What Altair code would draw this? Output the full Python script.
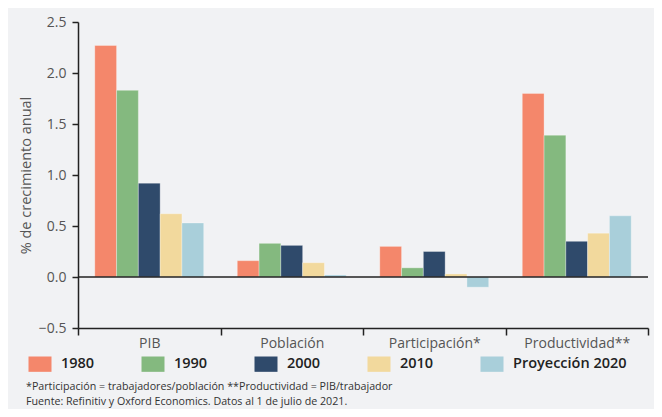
import altair as alt
import pandas as pd

categories = ["PIB", "Población", "Participación*", "Productividad**"]
series = ["1980", "1990", "2000", "2010", "Proyección 2020"]
v1980 = [2.27, 0.16, 0.30, 1.80]
v1990 = [1.83, 0.33, 0.09, 1.39]
v2000 = [0.92, 0.31, 0.25, 0.35]
v2010 = [0.62, 0.14, 0.03, 0.43]
v2020 = [0.53, 0.02, -0.10, 0.60]
colors = ["#f4876b", "#84b97f", "#2f4a6b", "#f2d99d", "#a9cfda"]
y_ticks = [-0.5, 0.0, 0.5, 1.0, 1.5, 2.0, 2.5]
note1 = "*Participación = trabajadores/población **Productividad = PIB/trabajador"
note2 = "Fuente: Refinitiv y Oxford Economics. Datos al 1 de julio de 2021."

values = [v1980, v1990, v2000, v2010, v2020]
rows = []
for s, vals in zip(series, values):
    for c, v in zip(categories, vals):
        rows.append({"categoria": c, "serie": s, "valor": v})
df = pd.DataFrame(rows)

FONT = "Open Sans"
W, H = 570, 306

bars = alt.Chart(df).mark_bar(stroke="white", strokeOpacity=0.3, strokeWidth=1).encode(
    x=alt.X("categoria:N", sort=categories,
            scale=alt.Scale(paddingInner=0, paddingOuter=0),
            axis=alt.Axis(title=None, labelAngle=0, tickBand="extent",
                          domainColor="#222", domainWidth=1.5, tickColor="#222",
                          tickWidth=1.5, tickSize=7, labelColor="#555",
                          labelFont=FONT, labelFontSize=14, labelPadding=1)),
    xOffset=alt.XOffset("serie:N", sort=series,
                        scale=alt.Scale(paddingInner=0, paddingOuter=0.77)),
    y=alt.Y("valor:Q", scale=alt.Scale(domain=[-0.5, 2.5], nice=False, zero=False),
            axis=alt.Axis(values=y_ticks, format=".1f", title="% de crecimiento anual",
                          grid=False, domainColor="#222", domainWidth=1.5,
                          tickColor="#222", tickWidth=1.5, tickSize=6, labelPadding=6,
                          labelColor="#555", labelFont=FONT, labelFontSize=14,
                          titleColor="#555", titleFont=FONT, titleFontSize=14.5,
                          titleFontWeight="normal", titlePadding=5)),
    color=alt.Color("serie:N", sort=series,
                    scale=alt.Scale(domain=series, range=colors),
                    legend=alt.Legend(title=None, orient="none", legendX=-46, legendY=334,
                                      direction="horizontal",
                                      symbolType="M-1.5,-1H1.5V1H-1.5Z", symbolSize=235,
                                      symbolStrokeWidth=0, symbolOpacity=1,
                                      labelFont=FONT, labelFontSize=14.5,
                                      labelFontWeight=600, labelColor="#222",
                                      labelOffset=13, columnPadding=46)),
)

zero = alt.Chart(pd.DataFrame({"y": [0]})).mark_rule(color="#222", strokeWidth=1.5).encode(
    y="y:Q"
)

n1 = alt.Chart(pd.DataFrame({"t": [note1]})).mark_text(
    align="left", baseline="middle", font=FONT, fontSize=10.7, color="#333"
).encode(x=alt.value(-52), y=alt.value(365), text="t:N")
n2 = alt.Chart(pd.DataFrame({"t": [note2]})).mark_text(
    align="left", baseline="middle", font=FONT, fontSize=10.7, color="#333"
).encode(x=alt.value(-52), y=alt.value(380), text="t:N")

chart = alt.layer(bars, zero, n1, n2).properties(
    width=W, height=H,
    autosize=alt.AutoSizeParams(type="none"),
    padding={"left": 70, "top": 14, "right": 6, "bottom": 81},
    background="#f1f2f4",
).configure_view(stroke=None)

chart.save("out.html", embed_options={"renderer": "svg", "actions": False})
